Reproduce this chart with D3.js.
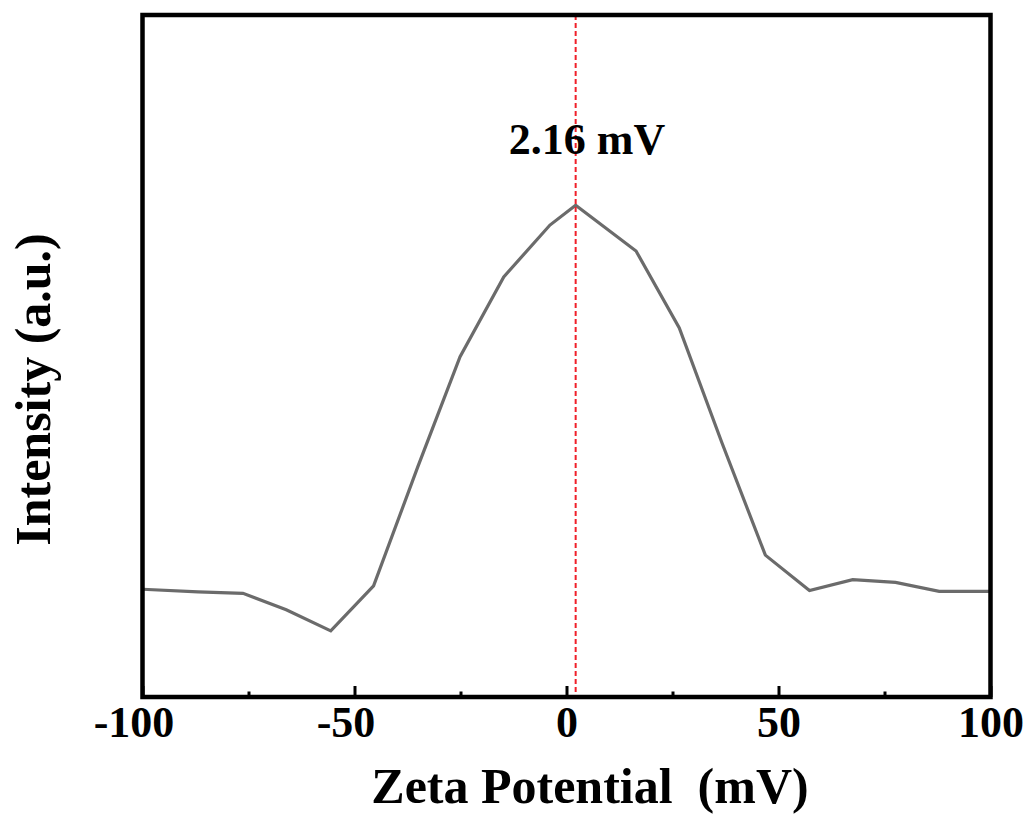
<!DOCTYPE html>
<html>
<head>
<meta charset="utf-8">
<script src="https://cdn.jsdelivr.net/npm/d3@7"></script>
<style>
  html, body { margin: 0; padding: 0; background: #fff; }
  svg { display: block; }
  text { font-family: "Liberation Serif", "Times New Roman", serif; font-weight: bold; fill: #000; }
</style>
</head>
<body>
<svg id="chart" width="1027" height="819"></svg>
<script>
// ---- data ----
const zeta = [-100, -86.9, -76.3, -66.1, -55.6, -45.5, -35.1, -25.1, -14.8, -3.9, 2.16, 16.4, 26.6, 36.7, 46.9, 57.3, 67.5, 77.6, 87.9, 100];
const intensity = [15.8, 15.4, 15.2, 12.8, 9.7, 16.3, 33.7, 49.9, 61.6, 69.2, 72.1, 65.4, 54.1, 37.2, 20.8, 15.6, 17.2, 16.8, 15.5, 15.5];
const majorTicks = [-100, -50, 0, 50, 100];
const minorTicks = [-75, -25, 25, 75];
const peakValue = 2.16;
const peakLabel = "2.16 mV";
const xTitle = "Zeta Potential  (mV)";
const yTitle = "Intensity (a.u.)";

// ---- layout ----
const L = 142.5, R = 990.5, T = 15, B = 697;
const svg = d3.select("#chart");
const x = d3.scaleLinear().domain([-100, 100]).range([L, R]);
const y = d3.scaleLinear().domain([0, 100]).range([B, T]);

// curve
const line = d3.line().x((d, i) => x(zeta[i])).y((d, i) => y(intensity[i]));
svg.append("path")
  .datum(intensity)
  .attr("d", line)
  .attr("fill", "none")
  .attr("stroke", "#6b6b6b")
  .attr("stroke-width", 3.2)
  .attr("stroke-linejoin", "miter");

// dashed peak marker
svg.append("line")
  .attr("x1", x(peakValue)).attr("x2", x(peakValue))
  .attr("y1", T).attr("y2", B)
  .attr("stroke", "#f0202a")
  .attr("stroke-width", 2)
  .attr("stroke-dasharray", "5,3");

// peak label
svg.append("text")
  .attr("x", 587).attr("y", 154)
  .attr("text-anchor", "middle")
  .attr("font-size", 44)
  .text(peakLabel);

// bottom axis ticks (inward)
const xAxis = d3.axisBottom(x)
  .tickValues(majorTicks)
  .tickSizeInner(-11)
  .tickSizeOuter(0)
  .tickFormat(d3.format("d"));
const gx = svg.append("g").attr("transform", `translate(0,${B})`).call(xAxis);
gx.select(".domain").remove();
gx.selectAll(".tick line").attr("stroke", "#000").attr("stroke-width", 3);
gx.selectAll(".tick text")
  .attr("y", 40)
  .attr("dy", 0)
  .attr("dx", d => d < 0 ? -9 : 0)
  .attr("font-size", 44)
  .attr("font-family", "Liberation Serif, Times New Roman, serif")
  .attr("font-weight", "bold")
  .attr("fill", "#000")
  .text(d => d < 0 ? "-" + Math.abs(d) : String(d));

const gxm = svg.append("g").attr("transform", `translate(0,${B})`)
  .call(d3.axisBottom(x).tickValues(minorTicks).tickSizeInner(-5.5).tickSizeOuter(0).tickFormat(""));
gxm.select(".domain").remove();
gxm.selectAll(".tick line").attr("stroke", "#000").attr("stroke-width", 3);

// frame
svg.append("rect")
  .attr("x", L).attr("y", T)
  .attr("width", R - L).attr("height", B - T)
  .attr("fill", "none")
  .attr("stroke", "#000")
  .attr("stroke-width", 4.5);

// axis titles
svg.append("text")
  .attr("x", 590).attr("y", 803)
  .attr("text-anchor", "middle")
  .attr("font-size", 50)
  .style("white-space", "pre")
  .text(xTitle);

svg.append("text")
  .attr("transform", "translate(50,389.5) rotate(-90)")
  .attr("text-anchor", "middle")
  .attr("font-size", 50)
  .text(yTitle);
</script>
</body>
</html>
